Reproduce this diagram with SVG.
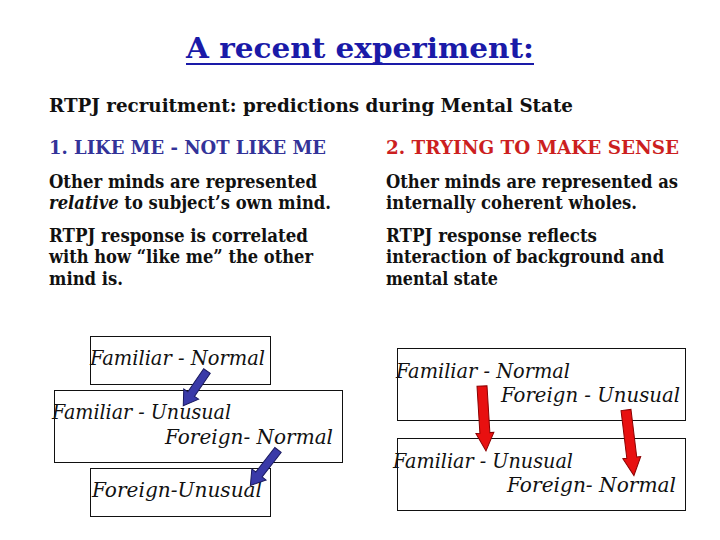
<svg xmlns="http://www.w3.org/2000/svg" width="720" height="540" viewBox="0 0 720 540">
<style>
.t{font-family:"DejaVu Serif","Liberation Serif",serif;font-weight:bold;}
.b{font-family:"DejaVu Serif","Liberation Serif",serif;font-weight:bold;font-size:18px;fill:#111;}
.i{font-family:"DejaVu Serif","Liberation Serif",serif;font-style:italic;font-size:20px;fill:#111;}
.box{fill:#fff;stroke:#111;stroke-width:1;}
.ab{fill:#3a3aa8;stroke:#1a1a60;stroke-width:1;}
.ar{fill:#e81010;stroke:#8a0000;stroke-width:1;}
</style>
<rect width="720" height="540" fill="#fff"/>
<g id="header">
<text class="t" x="186" y="58" font-size="28" fill="#1a1aa8" textLength="348" lengthAdjust="spacingAndGlyphs">A recent experiment:</text>
<line x1="186" y1="64" x2="534" y2="64" stroke="#1a1aa8" stroke-width="2"/>
<text class="b" x="49" y="112" textLength="524" lengthAdjust="spacingAndGlyphs">RTPJ recruitment: predictions during Mental State</text>
</g>
<g id="col1">
<text class="b" x="49" y="154" style="fill:#333399" textLength="277" lengthAdjust="spacingAndGlyphs">1. LIKE ME - NOT LIKE ME</text>
<text class="b" x="49" y="188" textLength="268" lengthAdjust="spacingAndGlyphs">Other minds are represented</text>
<text class="b" x="49" y="209" textLength="282" lengthAdjust="spacingAndGlyphs"><tspan font-style="italic">relative</tspan> to subject’s own mind.</text>
<text class="b" x="49" y="242" textLength="259" lengthAdjust="spacingAndGlyphs">RTPJ response is correlated</text>
<text class="b" x="49" y="263" textLength="264" lengthAdjust="spacingAndGlyphs">with how “like me” the other</text>
<text class="b" x="49" y="285" textLength="74" lengthAdjust="spacingAndGlyphs">mind is.</text>
</g>
<g id="col2">
<text class="b" x="386" y="154" style="fill:#cc1f1f" textLength="293" lengthAdjust="spacingAndGlyphs">2. TRYING TO MAKE SENSE</text>
<text class="b" x="386" y="188" textLength="292" lengthAdjust="spacingAndGlyphs">Other minds are represented as</text>
<text class="b" x="386" y="209" textLength="251" lengthAdjust="spacingAndGlyphs">internally coherent wholes.</text>
<text class="b" x="386" y="242" textLength="211" lengthAdjust="spacingAndGlyphs">RTPJ response reflects</text>
<text class="b" x="386" y="263" textLength="278" lengthAdjust="spacingAndGlyphs">interaction of background and</text>
<text class="b" x="386" y="285" textLength="112" lengthAdjust="spacingAndGlyphs">mental state</text>
</g>
<g id="left-box1">
<rect class="box" x="90.5" y="336.5" width="180" height="48"/>
<text class="i" x="90" y="365" textLength="175" lengthAdjust="spacingAndGlyphs">Familiar - Normal</text>
</g>
<g id="left-box2">
<rect class="box" x="54.5" y="390.5" width="288" height="72"/>
<text class="i" x="52" y="419" textLength="179" lengthAdjust="spacingAndGlyphs">Familiar - Unusual</text>
<text class="i" x="165" y="444" textLength="168" lengthAdjust="spacingAndGlyphs">Foreign- Normal</text>
</g>
<g id="left-box3">
<rect class="box" x="90.5" y="468.5" width="180" height="48"/>
<text class="i" x="92" y="497" textLength="170" lengthAdjust="spacingAndGlyphs">Foreign-Unusual</text>
</g>
<g id="right-box1">
<rect class="box" x="397.5" y="348.5" width="288" height="72"/>
<text class="i" x="396" y="378" textLength="174" lengthAdjust="spacingAndGlyphs">Familiar - Normal</text>
<text class="i" x="501" y="402" textLength="179" lengthAdjust="spacingAndGlyphs">Foreign - Unusual</text>
</g>
<g id="right-box2">
<rect class="box" x="397.5" y="438.5" width="288" height="72"/>
<text class="i" x="393" y="468" textLength="180" lengthAdjust="spacingAndGlyphs">Familiar - Unusual</text>
<text class="i" x="507" y="492" textLength="169" lengthAdjust="spacingAndGlyphs">Foreign- Normal</text>
</g>
<g id="connectors">
<polygon class="ab" transform="translate(207,371) rotate(124.4)" points="0,-4 28,-4 28,-9 42,0 28,9 28,4 0,4"/>
<polygon class="ab" transform="translate(278,450) rotate(127.9)" points="0,-4 31,-4 31,-9 45,0 31,9 31,4 0,4"/>
<polygon class="ar" transform="translate(482,386) rotate(86.5)" points="0,-5 47,-5 47,-9 65,0 47,9 47,5 0,5"/>
<polygon class="ar" transform="translate(626,410) rotate(83.1)" points="0,-5 48,-5 48,-9 66,0 48,9 48,5 0,5"/>
</g>
</svg>
